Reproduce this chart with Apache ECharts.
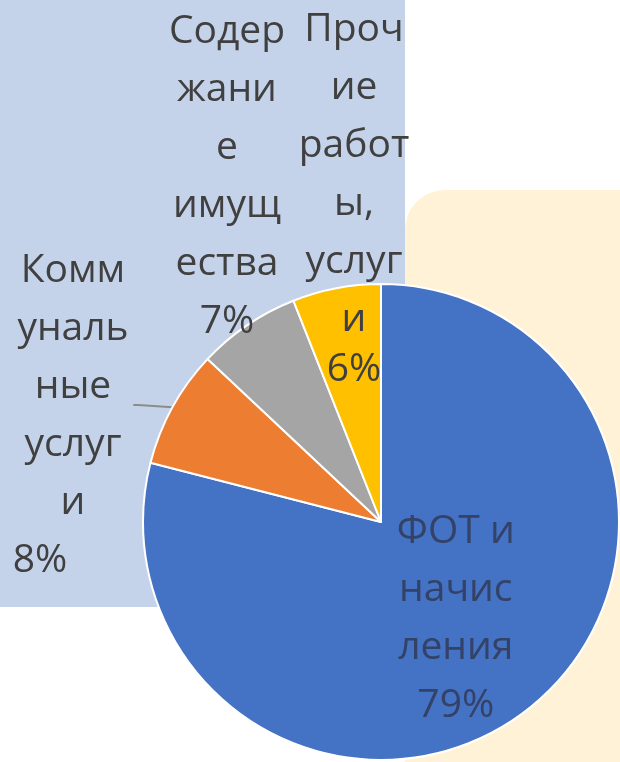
<!DOCTYPE html>
<html>
<head>
<meta charset="utf-8">
<script src="https://cdn.jsdelivr.net/npm/echarts@6/dist/echarts.min.js"></script>
<style>
  html, body { margin: 0; padding: 0; background: #fff; }
  #chart { width: 620px; height: 762px; }
</style>
</head>
<body>
<div id="chart"></div>
<script>
// данные диаграммы
const categories = ['ФОТ и начисления', 'Коммунальные услуги', 'Содержание имущества', 'Прочие работы, услуги']
const values = [79, 8, 7, 6]
const colors = ['#4472c4', '#ed7d31', '#a5a5a5', '#ffc000']
// подписи в том виде, как они разбиты в исходнике
const labelLines = [
  ['ФОТ и', 'начис', 'ления'],
  ['Комм', 'уналь', 'ные', 'услуг', 'и'],
  ['Содер', 'жани', 'е', 'имущ', 'ества'],
  ['Проч', 'ие', 'работ', 'ы,', 'услуг', 'и'],
]
// центры блоков подписей снаружи круга
const labelPos = [null, [73, 405], [227, 177], [354, 196]]

const chart = echarts.init(document.getElementById('chart'))

const FONT = '"Open Sans", "DejaVu Sans", sans-serif'

const pieData = categories.map((name, i) => {
  const item = {
    name,
    value: values[i],
    itemStyle: { color: colors[i] },
  }
  if (i === 0) {
    item.label = { position: 'inside', color: '#334266' }
    item.labelLine = { show: false }
  } else {
    item.label = { position: 'outside', color: '#404040' }
    // у коммунальных — выноска; блок сдвинут паддингом, чтобы линия шла горизонтально
    if (i === 1) item.label.padding = [22, 0, 0, 0]
    item.labelLine = { show: i === 1, length: 5, length2: 5, lineStyle: { color: '#8c8c8c', width: 2 } }
  }
  return item
})

chart.setOption({
  animation: false,
  graphic: [
    { type: 'rect', z: 0, shape: { x: 0, y: 0, width: 405, height: 607 }, style: { fill: '#c5d3ea' } },
    { type: 'rect', z: 0, shape: { x: 405, y: 190, width: 240, height: 600, r: [40, 0, 0, 0] }, style: { fill: '#fff2d6' } },
  ],
  series: [{
    type: 'pie',
    center: [381, 522],
    radius: 238,
    startAngle: 90,
    clockwise: true,
    itemStyle: { borderColor: '#ffffff', borderWidth: 2 },
    label: {
      fontFamily: FONT,
      fontSize: 39,
      lineHeight: 58,
      align: 'center',
      formatter: p => {
        const i = p.dataIndex
        const txt = labelLines[i].join('\n')
        if (i === 1) return txt + '\n{pl|' + values[i] + '%}'
        if (i === 3) return txt + '\n{tight|' + values[i] + '%}'
        return txt + '\n' + values[i] + '%'
      },
      rich: {
        pl: { fontFamily: FONT, fontSize: 39, lineHeight: 58, padding: [0, 66, 0, 0] },
        tight: { fontFamily: FONT, fontSize: 39, lineHeight: 42 },
      },
    },
    labelLayout: params => {
      const pos = labelPos[params.dataIndex]
      if (!pos) return {}
      return { x: pos[0], y: pos[1], align: 'center', verticalAlign: 'middle' }
    },
    data: pieData,
  }],
})
</script>
</body>
</html>
